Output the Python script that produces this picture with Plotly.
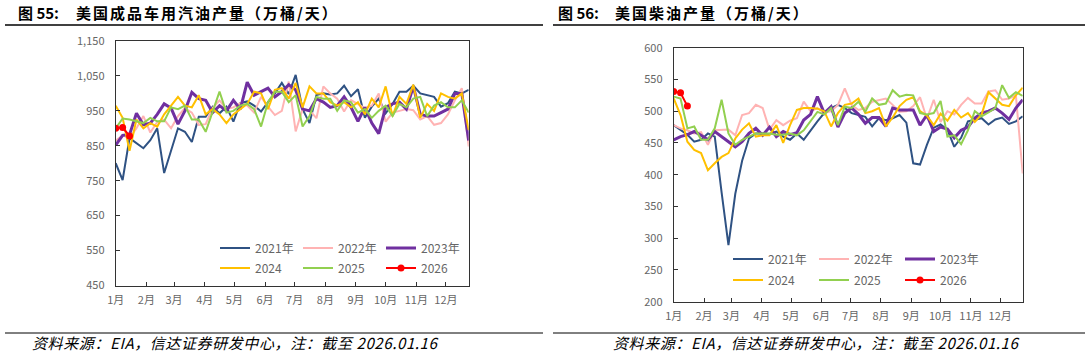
import plotly.graph_objects as go
import pandas as pd

W, H = 1088, 355

# ---------------- data ----------------
weeks = pd.date_range("2021-01-01", periods=52, freq="7D")
month_ticks = pd.date_range("2021-01-01", periods=12, freq="MS")

series_names = ["2021年", "2022年", "2023年", "2024", "2025", "2026"]
series_colors = ["#2F5283", "#FFB3B3", "#7030A0", "#FFC000", "#92D050", "#FF0000"]
series_widths = [2, 2, 3, 2, 2, 2]

gas_2021 = [800, 752, 872, 858, 843, 866, 900, 772, 835, 900, 890, 861, 933, 933, 962, 943, 962, 919, 972, 977,
            965, 948, 975, 1000, 1030, 998, 1053, 955, 915, 995, 1000, 997, 1000, 1022, 992, 1012, 930, 962, 985, 943,
            970, 1005, 1005, 1022, 1000, 995, 990, 962, 972, 1005, 1000, 1010]
gas_2022 = [865, 880, 872, 900, 935, 888, 918, 925, 900, 935, 958, 945, 910, 912, 958, 980, 955, 960, 972, 965,
            945, 990, 962, 938, 950, 1034, 891, 955, 952, 929, 1020, 1000, 985, 948, 981, 970, 958, 965, 1000, 919,
            945, 950, 955, 952, 925, 935, 910, 915, 940, 980, 1015, 848]
gas_2023 = [852, 880, 882, 943, 910, 915, 940, 970, 958, 912, 950, 1003, 985, 980, 945, 965, 950, 980, 955, 1032,
            995, 1005, 1015, 990, 1005, 1025, 1010, 955, 950, 985, 975, 960, 965, 990, 960, 920, 960, 915, 885, 960,
            970, 975, 955, 1020, 940, 935, 935, 945, 955, 1000, 1000, 865]
gas_2024 = [965, 930, 836, 925, 900, 915, 905, 940, 965, 990, 965, 960, 995, 940, 955, 940, 915, 940, 955, 970,
            1005, 1000, 955, 1010, 1015, 985, 1030, 960, 1020, 1000, 1000, 975, 965, 975, 960, 975, 940, 985, 960, 1020,
            935, 990, 970, 1025, 930, 970, 950, 1000, 990, 985, 1000, 895]
gas_2025 = [900, 928, 925, 920, 915, 930, 920, 920, 960, 955, 965, 925, 925, 890, 945, 1005, 945, 950, 965, 970,
            955, 905, 975, 1005, 1005, 975, 995, 905, 935, 990, 985, 985, 950, 980, 975, 945, 955, 930, 950, 965,
            935, 970, 960, 985, 990, 935, 965, 975, 960, 960, 980, 945]
gas_2026 = [900, 902, 878]

dsl_2021 = [478, 470, 463, 452, 455, 465, 460, 372, 289, 370, 422, 457, 465, 465, 464, 468, 460, 455, 465, 455,
            470, 484, 497, 505, 510, 505, 497, 494, 491, 476, 489, 486, 489, 494, 482, 418, 416, 447, 474, 479,
            471, 444, 458, 484, 486, 489, 479, 487, 490, 480, 484, 492]
dsl_2022 = [478, 473, 470, 465, 467, 447, 470, 470, 471, 462, 494, 497, 510, 505, 471, 486, 478, 485, 489, 515,
            500, 505, 497, 500, 510, 536, 510, 502, 505, 515, 517, 520, 510, 499, 500, 508, 522, 488, 518, 483,
            500, 495, 510, 521, 512, 512, 531, 533, 518, 520, 525, 402]
dsl_2023 = [455, 460, 463, 468, 462, 455, 468, 460, 452, 444, 452, 465, 473, 462, 475, 460, 468, 463, 466, 486,
            495, 523, 497, 507, 475, 497, 505, 495, 481, 490, 490, 476, 505, 502, 502, 502, 478, 494, 468, 475,
            472, 458, 470, 475, 489, 497, 500, 505, 497, 487, 505, 518]
dsl_2024 = [520, 494, 452, 439, 434, 407, 418, 428, 434, 457, 471, 481, 460, 462, 462, 478, 450, 478, 502, 505,
            505, 504, 500, 476, 497, 510, 512, 520, 497, 500, 505, 476, 490, 508, 518, 522, 500, 493, 478, 496,
            485, 502, 490, 497, 483, 495, 530, 520, 510, 508, 525, 537]
dsl_2025 = [523, 520, 473, 476, 455, 455, 473, 518, 465, 447, 455, 460, 465, 465, 465, 463, 463, 465, 462, 470,
            484, 499, 495, 505, 478, 507, 505, 515, 499, 520, 510, 512, 533, 523, 526, 525, 497, 495, 497, 516,
            460, 462, 448, 470, 500, 492, 498, 505, 541, 521, 530, 524]
dsl_2026 = [531, 529, 508]

gas_series = [gas_2021, gas_2022, gas_2023, gas_2024, gas_2025, gas_2026]
dsl_series = [dsl_2021, dsl_2022, dsl_2023, dsl_2024, dsl_2025, dsl_2026]

gas_ticks = [450, 550, 650, 750, 850, 950, 1050, 1150]
dsl_ticks = [200, 250, 300, 350, 400, 450, 500, 550, 600]
month_labels = [f"{m}月" for m in range(1, 13)]

fig_no_left, title_left = "图 55:", "美国成品车用汽油产量（万桶/天）"
fig_no_right, title_right = "图 56:", "美国柴油产量（万桶/天）"
source_text = "资料来源：EIA，信达证券研发中心，注：截至 2026.01.16"

# ---------------- figure ----------------
FONT = "Noto Sans CJK SC"
GRAY = "#666666"

def px(x):
    return x / W

def py(y):
    return 1 - y / H

fig = go.Figure()

legend_ids = [("legend", "legend2"), ("legend3", "legend4")]
for ci, (series, xa, ya) in enumerate([(gas_series, "x", "y"), (dsl_series, "x2", "y2")]):
    for i, vals in enumerate(series):
        is_last = i == 5
        fig.add_trace(go.Scatter(
            x=weeks[:len(vals)], y=vals, name=series_names[i],
            mode="lines+markers" if is_last else "lines",
            line=dict(color=series_colors[i], width=series_widths[i]),
            marker=dict(size=7, color=series_colors[i]) if is_last else None,
            xaxis=xa, yaxis=ya,
            legend=legend_ids[ci][0] if i < 3 else legend_ids[ci][1],
        ))

axis_common = dict(showgrid=False, zeroline=False, showline=True, mirror=True, automargin=False,
                   linecolor="#333333", linewidth=1, ticks="inside", ticklen=4,
                   tickcolor="#333333",
                   tickfont=dict(family=FONT, size=11, color=GRAY))

x_range = [weeks[0], weeks[-1]]
fig.update_layout(
    template="none",
    width=W, height=H, autosize=False,
    margin=dict(l=0, r=0, t=0, b=0, pad=0, autoexpand=False),
    paper_bgcolor="white", plot_bgcolor="white",
    font=dict(family=FONT, color=GRAY),
    xaxis=dict(domain=[px(115.7), px(468.7)], anchor="y", range=x_range,
               tickvals=month_ticks, ticktext=month_labels, ticklabelstandoff=4, **axis_common),
    yaxis=dict(domain=[py(285.5), py(41)], anchor="x", range=[450, 1150],
               tickvals=gas_ticks, tickformat=",", ticklabelstandoff=8, **axis_common),
    xaxis2=dict(domain=[px(673.7), px(1022.7)], anchor="y2", range=x_range,
                tickvals=month_ticks, ticktext=month_labels, ticklabelstandoff=4, **axis_common),
    yaxis2=dict(domain=[py(301.7), py(47.7)], anchor="x2", range=[200, 600],
                tickvals=dsl_ticks, ticklabelstandoff=8, **axis_common),
)

leg_common = dict(orientation="h", xanchor="left", yanchor="middle",
                  bgcolor="rgba(0,0,0,0)", borderwidth=0,
                  font=dict(family=FONT, size=12, color=GRAY),
                  entrywidthmode="pixels", itemclick=False, itemdoubleclick=False,
                  tracegroupgap=0)
fig.update_layout(
    legend=dict(x=px(215), y=py(248), entrywidth=38, **leg_common),
    legend2=dict(x=px(215), y=py(268), entrywidth=38, **leg_common),
    legend3=dict(x=px(728), y=py(259), entrywidth=41, **leg_common),
    legend4=dict(x=px(728), y=py(280), entrywidth=41, **leg_common),
)

# titles, rules, sources
ann = []
for tx_no, tx_title, no, text in [(17, 75, fig_no_left, title_left), (557, 614, fig_no_right, title_right)]:
    ann.append(dict(text=f"<b>{no}</b>", x=px(tx_no), y=py(13), xref="paper", yref="paper",
                    xanchor="left", yanchor="middle", showarrow=False, borderpad=0,
                    font=dict(family=FONT, size=15, color="#000000")))
    ann.append(dict(text=f"<b><span style='letter-spacing:2px'>{text}</span></b>",
                    x=px(tx_title), y=py(13), xref="paper", yref="paper",
                    xanchor="left", yanchor="middle", showarrow=False, borderpad=0,
                    font=dict(family=FONT, size=15, color="#000000")))
for tx in [31, 612]:
    ann.append(dict(text=f"<i><span style='letter-spacing:0.6px'>{source_text}</span></i>",
                    x=px(tx), y=py(342), xref="paper", yref="paper",
                    xanchor="left", yanchor="middle", showarrow=False, borderpad=0,
                    font=dict(family=FONT, size=15, color="#000000")))
fig.update_layout(annotations=ann)

shapes = []
for x0, x1 in [(5, 543), (553, 1085)]:
    shapes.append(dict(type="line", xref="paper", yref="paper", x0=px(x0), x1=px(x1),
                       y0=py(25), y1=py(25), line=dict(color="#000000", width=1.5)))
    shapes.append(dict(type="line", xref="paper", yref="paper", x0=px(x0), x1=px(x1),
                       y0=py(333), y1=py(333), line=dict(color="#000000", width=1)))
fig.update_layout(shapes=shapes)

fig.write_html("out.html", config={"displayModeBar": False},
               post_script="document.body.style.margin='0';")
